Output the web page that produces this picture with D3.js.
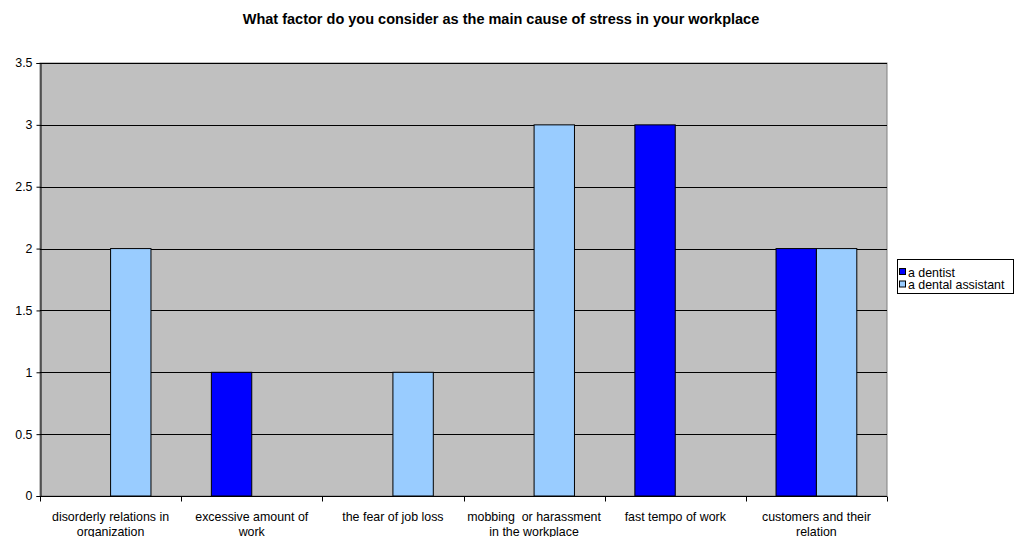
<!DOCTYPE html>
<html>
<head>
<meta charset="utf-8">
<script src="https://cdn.jsdelivr.net/npm/d3@7"></script>
<style>
  body { margin: 0; background: #fff; }
  svg { display: block; font-family: Arial, "Liberation Sans", sans-serif; }
  text { white-space: pre; }
</style>
</head>
<body>
<svg id="chart" width="1014" height="537"></svg>
<script>
// Survey answers: main cause of workplace stress
const categories = [
  ["disorderly relations in", "organization"],
  ["excessive amount of", "work"],
  ["the fear of job loss"],
  ["mobbing  or harassment", "in the workplace"],
  ["fast tempo of work"],
  ["customers and their", "relation"]
];
const seriesNames = ["a dentist", "a dental assistant"];
const dentist   = [0, 1, 0, 0, 3, 2];
const assistant = [2, 0, 1, 3, 0, 2];
const yTicks = [0, 0.5, 1, 1.5, 2, 2.5, 3, 3.5];
const colors = ["#0000FF", "#99CCFF"];

const svg = d3.select("#chart");
const plot = { left: 40, right: 887, top: 63, bottom: 496 };
const labelSize = 12.4;

svg.append("text")
  .attr("x", 501).attr("y", 24)
  .attr("text-anchor", "middle")
  .attr("font-size", 14.5).attr("font-weight", "bold")
  .text("What factor do you consider as the main cause of stress in your workplace");

const idx = d3.range(categories.length);
const x = d3.scaleBand().domain(idx).range([plot.left, plot.right]).paddingInner(0).paddingOuter(0);
const inner = d3.scaleBand().domain([0, 1]).range([30.2, x.bandwidth() - 30.2]);
const y = d3.scaleLinear().domain([0, 3.5]).range([plot.bottom, plot.top]);

// plot background
svg.append("rect")
  .attr("x", plot.left).attr("y", plot.top)
  .attr("width", plot.right - plot.left).attr("height", plot.bottom - plot.top)
  .attr("fill", "#C0C0C0").attr("stroke", "#808080").attr("stroke-width", 1);

// gridlines
svg.append("g").selectAll("line").data(yTicks.filter(d => d > 0))
  .join("line")
  .attr("x1", plot.left).attr("x2", plot.right)
  .attr("y1", d => Math.round(y(d)) + 0.5).attr("y2", d => Math.round(y(d)) + 0.5)
  .attr("stroke", "#000").attr("stroke-width", 1);

// bars
const seriesData = [dentist, assistant];
seriesData.forEach((vals, s) => {
  svg.append("g").selectAll("rect").data(idx.filter(i => vals[i] > 0))
    .join("rect")
    .attr("x", i => x(i) + inner(s))
    .attr("y", i => y(vals[i]))
    .attr("width", inner.bandwidth())
    .attr("height", i => y(0) - y(vals[i]))
    .attr("fill", colors[s])
    .attr("stroke", "#000").attr("stroke-width", 1);
});

// y axis
const yAxis = svg.append("g")
  .attr("transform", `translate(${plot.left + 0.5},0)`)
  .call(d3.axisLeft(y).tickValues(yTicks).tickSize(4).tickPadding(4).tickFormat(d3.format("")));
yAxis.select(".domain").attr("stroke", "#000");
yAxis.selectAll("text").attr("font-size", labelSize).attr("fill", "#000").attr("font-family", "Arial, 'Liberation Sans', sans-serif");

// x axis
const xAxisG = svg.append("g").attr("transform", `translate(0,${plot.bottom + 0.5})`);
xAxisG.append("line")
  .attr("x1", plot.left).attr("x2", plot.right)
  .attr("stroke", "#000");
xAxisG.selectAll("line.tick").data(d3.range(categories.length + 1))
  .join("line").attr("class", "tick")
  .attr("x1", i => Math.round(plot.left + i * x.bandwidth()) + 0.5)
  .attr("x2", i => Math.round(plot.left + i * x.bandwidth()) + 0.5)
  .attr("y1", 0).attr("y2", 5)
  .attr("stroke", "#000");
xAxisG.selectAll("text").data(idx)
  .join("text")
  .attr("x", i => x(i) + x.bandwidth() / 2)
  .attr("y", 24)
  .attr("text-anchor", "middle")
  .attr("font-size", labelSize)
  .each(function(i) {
    d3.select(this).selectAll("tspan").data(categories[i])
      .join("tspan")
      .attr("x", x(i) + x.bandwidth() / 2)
      .attr("dy", (d, k) => k === 0 ? 0 : 15)
      .text(d => d);
  });

// legend
const legend = svg.append("g").attr("transform", "translate(897.5,259.5)");
legend.append("rect")
  .attr("width", 116).attr("height", 34)
  .attr("fill", "#fff").attr("stroke", "#000");
seriesNames.forEach((name, s) => {
  legend.append("rect")
    .attr("x", 2).attr("y", 9 + s * 12.5)
    .attr("width", 6).attr("height", 6)
    .attr("fill", colors[s]).attr("stroke", "#000");
  legend.append("text")
    .attr("x", 10.5).attr("y", 17 + s * 12.5)
    .attr("font-size", labelSize)
    .text(name);
});
</script>
</body>
</html>
